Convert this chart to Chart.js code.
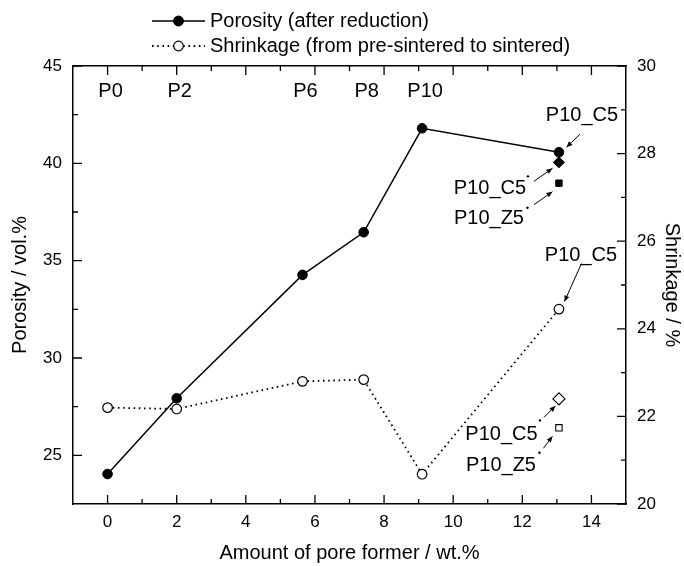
<!DOCTYPE html>
<html><head><meta charset="utf-8">
<script src="https://cdn.jsdelivr.net/npm/chart.js@4"></script>
<style>html,body{margin:0;padding:0;background:#fff}#wrap{width:684px;height:566px}</style>
</head><body><div id="wrap"><canvas id="c" width="684" height="566"></canvas></div>
<script>
// ---- data ----
const poreFormer = [0, 2, 5.64, 7.41, 9.1, 13.06];
const porosity = [24.04, 27.93, 34.27, 36.46, 41.8, 40.57];
const shrinkage = [22.2, 22.17, 22.8, 22.84, 20.68, 24.45];
const sampleLabels = ['P0', 'P2', 'P6', 'P8', 'P10'];
const extraX = [13.06];
const porosityC5b = [40.05];
const porosityZ5b = [38.98];
const shrinkageC5b = [22.4];
const shrinkageZ5b = [21.74];
const xTickValues = [0, 2, 4, 6, 8, 10, 12, 14];
const xMinorValues = [1, 3, 5, 7, 9, 11, 13];
const porosityTicks = [25, 30, 35, 40, 45];
const porosityMinor = [27.5, 32.5, 37.5, 42.5];
const shrinkageTicks = [20, 22, 24, 26, 28, 30];
const shrinkageMinor = [21, 23, 25, 27, 29];

const FONT = "'Liberation Sans', Arial, sans-serif";
const pts = (xs, ys) => xs.map((x, i) => ({x, y: ys[i]}));

const tickFont = {family: FONT, size: 17};
const titleFont = {family: FONT, size: 20};

const marksPlugin = {
  id: 'marks',
  afterDraw(chart) {
    const ctx = chart.ctx;
    const a = chart.chartArea;
    const sx = chart.scales.x, sy = chart.scales.y, sy2 = chart.scales.y2;
    ctx.save();
    ctx.strokeStyle = '#000';
    ctx.lineWidth = 1.3;
    ctx.setLineDash([]);
    const MAJ = 9, MIN = 5;
    ctx.beginPath();
    xTickValues.forEach(v => { const p = sx.getPixelForValue(v);
      ctx.moveTo(p, a.bottom); ctx.lineTo(p, a.bottom - MAJ);
      ctx.moveTo(p, a.top); ctx.lineTo(p, a.top + MAJ); });
    xMinorValues.forEach(v => { const p = sx.getPixelForValue(v);
      ctx.moveTo(p, a.bottom); ctx.lineTo(p, a.bottom - MIN);
      ctx.moveTo(p, a.top); ctx.lineTo(p, a.top + MIN); });
    porosityTicks.forEach(v => { const p = sy.getPixelForValue(v);
      ctx.moveTo(a.left, p); ctx.lineTo(a.left + MAJ, p); });
    porosityMinor.forEach(v => { const p = sy.getPixelForValue(v);
      ctx.moveTo(a.left, p); ctx.lineTo(a.left + MIN, p); });
    shrinkageTicks.forEach(v => { const p = sy2.getPixelForValue(v);
      ctx.moveTo(a.right, p); ctx.lineTo(a.right - MAJ, p); });
    shrinkageMinor.forEach(v => { const p = sy2.getPixelForValue(v);
      ctx.moveTo(a.right, p); ctx.lineTo(a.right - MIN, p); });
    ctx.stroke();

    // top sample labels
    ctx.fillStyle = '#000';
    ctx.font = '20px ' + FONT;
    ctx.textAlign = 'center';
    ctx.textBaseline = 'middle';
    sampleLabels.forEach((t, i) => {
      ctx.fillText(t, sx.getPixelForValue(poreFormer[i]) + 3, a.top + 25);
    });

    // legend
    const legendRows = [{ds: 0, y: 21}, {ds: 1, y: 46}];
    legendRows.forEach(r => {
      const ds = chart.data.datasets[r.ds];
      ctx.beginPath();
      ctx.lineWidth = ds.borderWidth;
      ctx.setLineDash(ds.borderDash || []);
      ctx.moveTo(152, r.y); ctx.lineTo(205, r.y); ctx.stroke();
      ctx.setLineDash([]);
      ctx.beginPath();
      ctx.arc(178.5, r.y, ds.pointRadius, 0, Math.PI * 2);
      ctx.fillStyle = ds.pointBackgroundColor; ctx.fill();
      ctx.lineWidth = 1.2; ctx.strokeStyle = '#000'; ctx.stroke();
      ctx.fillStyle = '#000';
      ctx.textAlign = 'left';
      ctx.fillText(ds.label, 210, r.y);
    });

    // annotations
    const anno = [
      {ds: 0, i: 5, text: 'P10_C5', tx: 23, ty: -37, t1: [21, -18], t2: [7.5, -5], dot: null},
      {ds: 2, i: 0, text: 'P10_C5', tx: -69, ty: 26, t1: [-25, 19], t2: [-6.5, 6], dot: [-31, 14]},
      {ds: 3, i: 0, text: 'P10_Z5', tx: -70, ty: 35, t1: [-25, 21.5], t2: [-6.5, 8.5], dot: [-31.5, 24.5]},
      {ds: 1, i: 5, text: 'P10_C5', tx: 22, ty: -54, t1: [22.5, -45.5], t2: [5.5, -7.5], dot: null},
      {ds: 4, i: 0, text: 'P10_C5', tx: -57.5, ty: 35.5, t1: [-15, 18.5], t2: [-3.5, 7], dot: [-19, 21.5]},
      {ds: 5, i: 0, text: 'P10_Z5', tx: -58, ty: 37.5, t1: [-15.5, 20.5], t2: [-6.5, 8.5], dot: [-19.5, 25]}
    ];
    ctx.textAlign = 'center';
    anno.forEach(n => {
      const el = chart.getDatasetMeta(n.ds).data[n.i];
      const px = el.x, py = el.y;
      ctx.fillStyle = '#000';
      ctx.fillText(n.text, px + n.tx, py + n.ty);
      if (n.dot) { ctx.beginPath(); ctx.arc(px + n.dot[0], py + n.dot[1], 1.2, 0, Math.PI * 2); ctx.fill(); }
      const x1 = px + n.t1[0], y1 = py + n.t1[1], x2 = px + n.t2[0], y2 = py + n.t2[1];
      ctx.beginPath(); ctx.lineWidth = 1; ctx.strokeStyle = '#000';
      ctx.moveTo(x1, y1); ctx.lineTo(x2, y2); ctx.stroke();
      const ang = Math.atan2(y2 - y1, x2 - x1), L = 6, W = 2.5;
      ctx.beginPath();
      ctx.moveTo(x2, y2);
      ctx.lineTo(x2 - L * Math.cos(ang) + W * Math.sin(ang), y2 - L * Math.sin(ang) - W * Math.cos(ang));
      ctx.lineTo(x2 - L * Math.cos(ang) - W * Math.sin(ang), y2 - L * Math.sin(ang) + W * Math.cos(ang));
      ctx.closePath(); ctx.fill();
    });
    ctx.restore();
  }
};

const border = {display: true, color: '#000', width: 1.5};
const noGrid = {display: false, drawTicks: false};
const setTicks = vals => s => { s.ticks = vals.map(v => ({value: v})); };

new Chart(document.getElementById('c'), {
  type: 'scatter',
  data: {
    datasets: [
      {label: 'Porosity (after reduction)', data: pts(poreFormer, porosity), yAxisID: 'y', showLine: true,
       borderColor: '#000', borderWidth: 1.5, pointRadius: 4.8, pointBackgroundColor: '#000', pointBorderColor: '#000', pointBorderWidth: 1},
      {label: 'Shrinkage (from pre-sintered to sintered)', data: pts(poreFormer, shrinkage), yAxisID: 'y2', showLine: true,
       borderColor: '#000', borderWidth: 1.8, borderDash: [1.6, 3.6], pointRadius: 4.8, pointBackgroundColor: '#fff', pointBorderColor: '#000', pointBorderWidth: 1.2},
      {label: 'P10_C5 porosity', data: pts(extraX, porosityC5b), yAxisID: 'y', showLine: false, pointStyle: 'rectRot',
       pointRadius: 5.5, pointBackgroundColor: '#000', pointBorderColor: '#000'},
      {label: 'P10_Z5 porosity', data: pts(extraX, porosityZ5b), yAxisID: 'y', showLine: false, pointStyle: 'rect',
       pointRadius: 4.5, pointBackgroundColor: '#000', pointBorderColor: '#000'},
      {label: 'P10_C5 shrinkage', data: pts(extraX, shrinkageC5b), yAxisID: 'y2', showLine: false, pointStyle: 'rectRot',
       pointRadius: 6, pointBackgroundColor: '#fff', pointBorderColor: '#000', pointBorderWidth: 1.1},
      {label: 'P10_Z5 shrinkage', data: pts(extraX, shrinkageZ5b), yAxisID: 'y2', showLine: false, pointStyle: 'rect',
       pointRadius: 4.5, pointBackgroundColor: '#fff', pointBorderColor: '#000', pointBorderWidth: 1.1}
    ]
  },
  options: {
    responsive: false, animation: false, devicePixelRatio: 1,
    layout: {padding: 0},
    plugins: {legend: {display: false}, tooltip: {enabled: false}},
    scales: {
      x: {type: 'linear', position: 'bottom', min: -1, max: 15, afterBuildTicks: setTicks(xTickValues),
          ticks: {padding: 8, font: tickFont, color: '#000', maxRotation: 0, autoSkip: false}, grid: noGrid, border,
          title: {display: true, text: 'Amount of pore former / wt.%', font: titleFont, color: '#000', padding: {top: 0, bottom: 1}},
          afterFit: s => { s.height = 62; }},
      x2: {type: 'linear', position: 'top', min: -1, max: 15, ticks: {display: false}, grid: noGrid, border,
          afterFit: s => { s.height = 66; }},
      y: {type: 'linear', position: 'left', min: 22.5, max: 45, afterBuildTicks: setTicks(porosityTicks),
          ticks: {padding: 11, font: tickFont, color: '#000'}, grid: noGrid, border,
          title: {display: true, text: 'Porosity / vol.%', font: titleFont, color: '#000', padding: {top: 8, bottom: 0}},
          afterFit: s => { s.width = 73; }},
      y2: {type: 'linear', position: 'right', min: 20, max: 30, afterBuildTicks: setTicks(shrinkageTicks),
          ticks: {padding: 11, font: tickFont, color: '#000'}, grid: noGrid, border,
          title: {display: true, text: 'Shrinkage / %', font: titleFont, color: '#000', padding: {top: 0, bottom: 0}},
          afterFit: s => { s.width = 58; }}
    }
  },
  plugins: [marksPlugin]
});
</script>
</body></html>
